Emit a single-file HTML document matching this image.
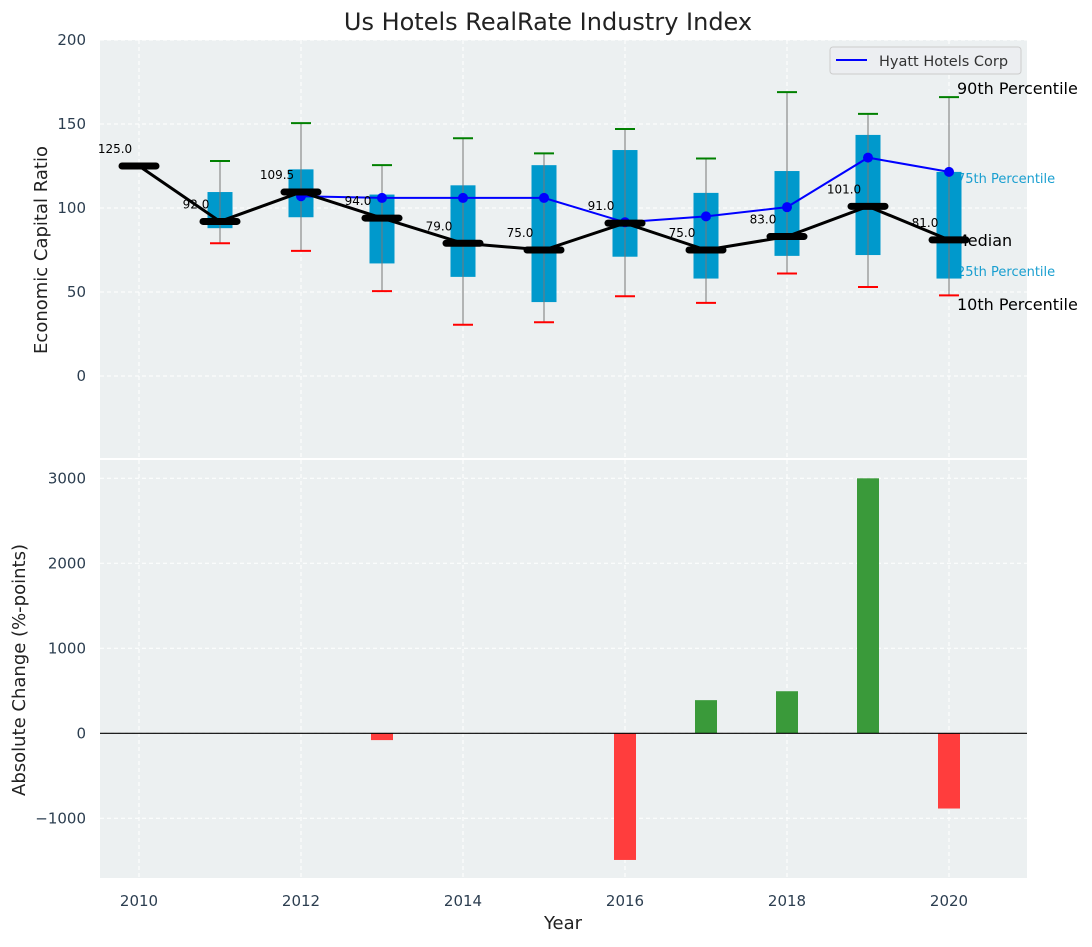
<!DOCTYPE html>
<html><head><meta charset="utf-8"><style>
body{margin:0;background:#fff;font-family:"Liberation Sans","DejaVu Sans",sans-serif}
svg text{font-family:"DejaVu Sans","Liberation Sans",sans-serif}
</style></head><body>
<svg id="c" width="1092" height="942" xmlns="http://www.w3.org/2000/svg"></svg>
<script>
const years=[2010,2011,2012,2013,2014,2015,2016,2017,2018,2019,2020];
const medians=[125,92,109.5,94,79,75,91,75,83,101,81];
const p90=[null,128,150.5,125.5,141.5,132.5,147,129.5,169,156,166];
const p75=[null,109.5,123,108,113.5,125.5,134.5,109,122,143.5,121.5];
const p25=[null,88,94.5,67,59,44,71,58,71.5,72,58];
const p10=[null,79,74.5,50.5,30.5,32,47.5,43.5,61,53,48];
const hyattYears=[2012,2013,2014,2015,2016,2017,2018,2019,2020];
const hyatt=[107,106,106,106,91.5,95,100.5,130,121.5];
const changes=[0,0,0,-80,0,0,-1490,390,495,3000,-885];
const topTicks=[0,50,100,150,200];
const botTicks=[-1000,0,1000,2000,3000];
const xTicks=[2010,2012,2014,2016,2018,2020];

const svg=document.getElementById('c');const NS='http://www.w3.org/2000/svg';
function el(t,a,p){const e=document.createElementNS(NS,t);for(const k in a)e.setAttribute(k,a[k]);(p||svg).appendChild(e);return e;}
const L=100,R=1027;
const x=v=>139+(v-2010)*81;
const yT=v=>376-v*1.68;
const yB=v=>733.3-v*0.085;
let t;
t=el('rect',{x:L,y:40,width:R-L,height:418,fill:'#ecf0f1'});

t=el('rect',{x:L,y:460,width:R-L,height:418,fill:'#ecf0f1'});

xTicks.forEach(v=>{
 el('line',{x1:x(v),x2:x(v),y1:40,y2:458,stroke:'#fff','stroke-dasharray':'4,3','stroke-width':1});
 el('line',{x1:x(v),x2:x(v),y1:460,y2:878,stroke:'#fff','stroke-dasharray':'4,3','stroke-width':1});
 t=el('text',{x:x(v),y:906,'text-anchor':'middle','font-size':15,fill:'#2c3e50'});t.textContent=v;
 
});
topTicks.forEach(v=>{
 el('line',{x1:L,x2:R,y1:yT(v),y2:yT(v),stroke:'#fff','stroke-dasharray':'4,3'});
 t=el('text',{x:86,y:yT(v)+5,'text-anchor':'end','font-size':15,fill:'#2c3e50'});t.textContent=v;
 
});
botTicks.forEach(v=>{
 el('line',{x1:L,x2:R,y1:yB(v),y2:yB(v),stroke:'#fff','stroke-dasharray':'4,3'});
 t=el('text',{x:86,y:yB(v)+5,'text-anchor':'end','font-size':15,fill:'#2c3e50'});t.textContent=v<0?'\u2212'+(-v):v;
 
});
const lx=x(2020)+8;
[['90th Percentile',94,16,'#000'],['75th Percentile',183,13,'#1a9fd0'],['Median',246,16,'#000'],['25th Percentile',276,13,'#1a9fd0'],['10th Percentile',310,16,'#000']].forEach(a=>{
 t=el('text',{x:a[0]=='Median'?x(2020)+5:lx,y:a[1],'font-size':a[2],fill:a[3]});t.textContent=a[0];
 
});
years.forEach((yr,i)=>{
 if(p90[i]==null)return;
 const cx=x(yr);
 t=el('rect',{x:cx-12.5,y:yT(p75[i]),width:25,height:yT(p25[i])-yT(p75[i]),fill:'#0099cc'});
 
 el('line',{x1:cx,x2:cx,y1:yT(p90[i]),y2:yT(p10[i]),stroke:'#777','stroke-width':1});
 t=el('line',{x1:cx-10,x2:cx+10,y1:yT(p90[i]),y2:yT(p90[i]),stroke:'green','stroke-width':2});
 
 t=el('line',{x1:cx-10,x2:cx+10,y1:yT(p10[i]),y2:yT(p10[i]),stroke:'red','stroke-width':2});
 
});
t=el('polyline',{points:hyattYears.map((yr,i)=>x(yr)+','+yT(hyatt[i])).join(' '),fill:'none',stroke:'blue','stroke-width':2});

hyattYears.forEach((yr,i)=>{t=el('circle',{cx:x(yr),cy:yT(hyatt[i]),r:5,fill:'blue'});
 });
t=el('polyline',{points:years.map((yr,i)=>x(yr)+','+yT(medians[i])).join(' '),fill:'none',stroke:'#000','stroke-width':3});

years.forEach((yr,i)=>{
 t=el('line',{x1:x(yr)-17,x2:x(yr)+17,y1:yT(medians[i]),y2:yT(medians[i]),stroke:'#000','stroke-width':7,'stroke-linecap':'round'});
 
 t=el('text',{x:x(yr)-24,y:yT(medians[i])-13,'text-anchor':'middle','font-size':12,fill:'#000'});t.textContent=medians[i].toFixed(1);
 
});
years.forEach((yr,i)=>{
 const v=changes[i];if(v===0)return;
 t=el('rect',{x:x(yr)-11,y:Math.min(yB(v),yB(0)),width:22,height:Math.abs(yB(v)-yB(0)),fill:v>0?'#3a9a3a':'#ff3d3d'});
 
});
el('line',{x1:L,x2:R,y1:yB(0),y2:yB(0),stroke:'#000','stroke-width':1.2});
const lg=el('g',{});
el('rect',{x:830,y:47,width:191,height:27,rx:3,fill:'#eceef1',stroke:'#ccc'},lg);
el('line',{x1:836,x2:867,y1:60,y2:60,stroke:'blue','stroke-width':2},lg);
t=el('text',{x:879,y:66,'font-size':14.5,fill:'#333'},lg);t.textContent='Hyatt Hotels Corp';
t=el('text',{x:548,y:30,'text-anchor':'middle','font-size':24,fill:'#222'});t.textContent='Us Hotels RealRate Industry Index';

t=el('text',{x:563,y:929,'text-anchor':'middle','font-size':18,fill:'#222'});t.textContent='Year';

t=el('text',{x:0,y:0,'text-anchor':'middle','font-size':18,fill:'#222',transform:'translate(47,250) rotate(-90)'});t.textContent='Economic Capital Ratio';

t=el('text',{x:0,y:0,'text-anchor':'middle','font-size':18,fill:'#222',transform:'translate(25,670) rotate(-90)'});t.textContent='Absolute Change (%-points)';

</script>
</body></html>
